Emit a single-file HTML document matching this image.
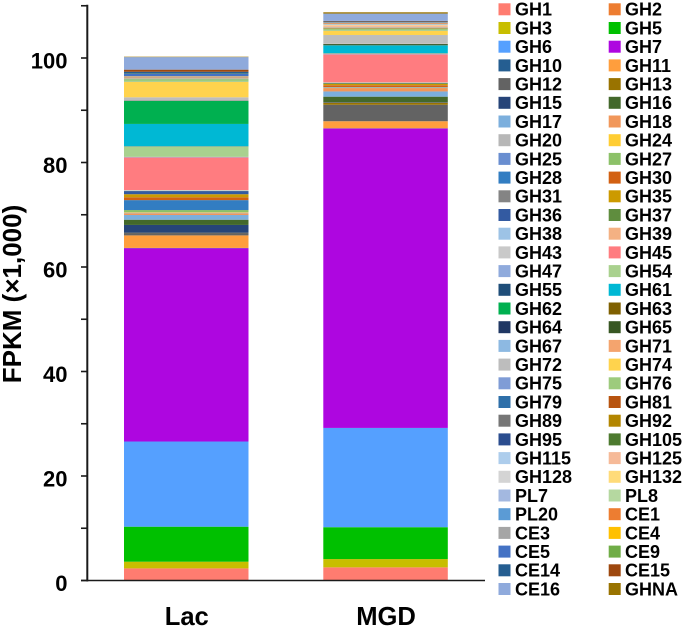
<!DOCTYPE html>
<html>
<head>
<meta charset="utf-8">
<style>
html,body{margin:0;padding:0;background:#fff;width:685px;height:628px;overflow:hidden}
svg{display:block}
text{font-family:"Liberation Sans",Arial,sans-serif;font-weight:bold;fill:#000}
</style>
</head>
<body>
<svg id="chart" width="685" height="628" viewBox="0 0 685 628" xmlns="http://www.w3.org/2000/svg">
  <g id="bars"></g>
  <g id="axes"></g>
  <g id="legend"></g>
  <text transform="translate(21,294) rotate(-90)" text-anchor="middle" font-size="26">FPKM (×1,000)</text>
</svg>
<script>
const categories = ['Lac', 'MGD'];
const seriesNames = ['GH1','GH2','GH3','GH5','GH6','GH7','GH10','GH11','GH12','GH13','GH15','GH16','GH17','GH18','GH20','GH24','GH25','GH27','GH28','GH30','GH31','GH35','GH36','GH37','GH38','GH39','GH43','GH45','GH47','GH54','GH55','GH61','GH62','GH63','GH64','GH65','GH67','GH71','GH72','GH74','GH75','GH76','GH79','GH81','GH89','GH92','GH95','GH105','GH115','GH125','GH128','GH132','PL7','PL8','PL20','CE1','CE3','CE4','CE5','CE9','CE14','CE15','CE16','GHNA'];
const lacValues = [2.3,0.02,1.28,6.7,16.3,37.0,0.05,2.4,0.45,0.05,1.5,1.0,0.9,0.3,0.1,0.1,0.05,0.4,1.9,0.5,0.03,0.6,0.6,0.05,0.05,0.05,0.05,6.25,0.1,2.0,0.05,4.25,4.4,0.03,0.03,0.02,0.02,0.02,0.58,2.95,0.03,0.5,0.02,0.02,0.02,0.02,0.02,0.02,0.02,0.03,0.02,0.03,0.03,0.03,0.03,0.15,0.05,0.05,0.45,0.05,0.35,0.4,2.4,0.08];
const mgdValues = [2.5,0.02,1.58,6.1,19.0,57.3,0.05,1.35,3.15,0.4,0.1,1.05,1.0,0.65,0.03,0.02,0.03,0.05,0.05,0.35,0.02,0.25,0.05,0.15,0.03,0.02,0.05,5.35,0.1,0.1,0.05,1.45,0.02,0.03,0.02,0.2,0.03,0.03,1.67,0.8,0.03,0.37,0.02,0.02,0.03,0.1,0.02,0.03,0.05,0.35,0.03,0.1,0.05,0.05,0.05,0.15,0.1,0.02,0.1,0.03,0.1,0.1,1.4,0.25];
const yTickValues = [0,10,20,30,40,50,60,70,80,90,100,110];
const yTickLabels = ['0','','20','','40','','60','','80','','100',''];
const palette = ['#FF7C70','#ED7D31','#C8BE00','#00C000','#55A0FF','#AE06E0','#255E91','#FF9E3D','#636363','#997300','#264478','#43682B','#7CAFDD','#F1975A','#B7B7B7','#FFCD33','#698ED0','#8CC168','#327DC2','#D26012','#848484','#CC9A00','#335AA1','#5F8D3E','#9DC3E6','#F4B183','#C9C9C9','#FF7C80','#8FAADC','#A9D18E','#1F4E79','#00B8D4','#00B050','#7F6000','#203864','#385723','#8DB9E2','#F4A46E','#BDBDBD','#FFD34D','#7F9CD6','#9DCB7D','#2E6FA9','#B8540F','#767676','#B38600','#2B4D8F','#4D7A2F','#ADCDEC','#F6BA98','#D4D4D4','#FFDB79','#A3B8E0','#B5D8A0','#5B9BD5','#ED7D31','#A5A5A5','#FFC000','#4472C4','#70AD47','#255E91','#9E480E','#8FAADC','#997300'];

const NS = 'http://www.w3.org/2000/svg';
const yScale = v => 580.5 - v * 5.225;
const barLeft = i => 124 + i * 199.3;
const barWidth = 124.5;
const valuesByCategory = [lacValues, mgdValues];
function make(tag, attrs, parent) {
  const el = document.createElementNS(NS, tag);
  for (const k in attrs) el.setAttribute(k, attrs[k]);
  parent.appendChild(el);
  return el;
}
const barsG = document.getElementById('bars');
categories.forEach((cat, c) => {
  let cum = 0;
  seriesNames.forEach((name, s) => {
    const v = valuesByCategory[c][s];
    const y1 = yScale(cum), y2 = yScale(cum + v);
    const r = make('rect', {x: barLeft(c), y: y2, width: barWidth, height: y1 - y2, fill: palette[s]}, barsG);
    
    
    cum += v;
  });
  const t = make('text', {x: barLeft(c) + barWidth / 2 + 0.5, y: 625, 'text-anchor': 'middle', 'font-size': 25.6}, barsG);
  t.textContent = cat;
  
  
});
const axesG = document.getElementById('axes');
const yLine = make('line', {x1: 87.3, x2: 87.3, y1: yScale(110) - 1, y2: yScale(0) + 1, stroke: '#1a1a1a', 'stroke-width': 2}, axesG);


const xLine = make('line', {x1: 81, x2: 485, y1: yScale(0), y2: yScale(0), stroke: '#1a1a1a', 'stroke-width': 1.6}, axesG);


yTickValues.forEach((v, i) => {
  const y = yScale(v);
  const tick = make('line', {x1: 81, x2: 87, y1: y, y2: y, stroke: '#1a1a1a', 'stroke-width': 1.6}, axesG);
  
  
  if (yTickLabels[i]) {
    const t = make('text', {x: 67.5, y: y + 10.5, 'text-anchor': 'end', 'font-size': 22}, axesG);
    t.textContent = yTickLabels[i];
    
    
  }
});
const legendG = document.getElementById('legend');
seriesNames.forEach((name, s) => {
  const col = s % 2, row = Math.floor(s / 2);
  const cy = 9.3 + row * 18.7;
  const g = make('g', {}, legendG);
  
  
  make('rect', {x: col ? 608.7 : 498.5, y: cy - 6, width: 12, height: 12, fill: palette[s]}, g);
  const t = make('text', {x: col ? 625 : 515, y: cy + 6.4, 'font-size': 18}, g);
  t.textContent = name;
});
</script>
</body>
</html>
